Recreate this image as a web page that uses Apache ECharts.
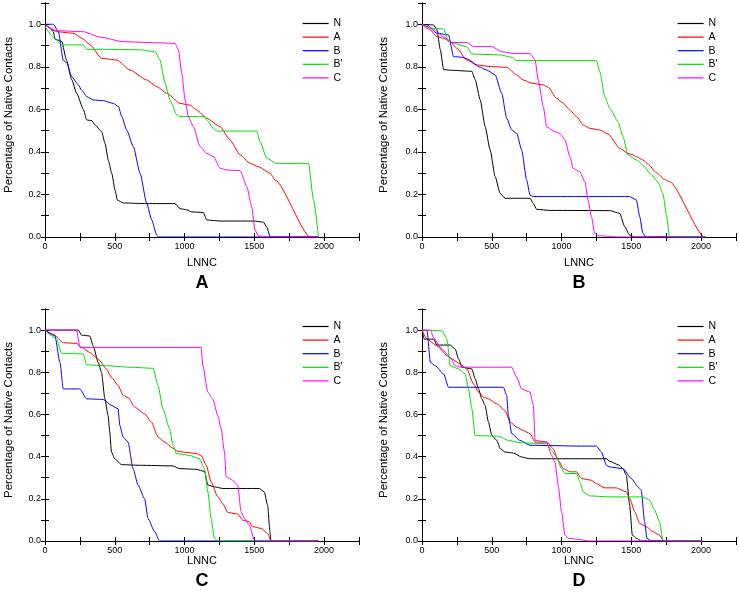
<!DOCTYPE html>
<html>
<head>
<meta charset="utf-8">
<script src="https://cdn.jsdelivr.net/npm/echarts@6/dist/echarts.min.js"></script>
<style>
  html, body { margin: 0; padding: 0; background: #fff; }
  #main { width: 739px; height: 598px; }
</style>
</head>
<body>
<div id="main"></div>
<script>
// series names and colours
const seriesNames = ['N', 'A', 'B', "B'", 'C'];
const panelNames = ['A', 'B', 'C', 'D'];
const xTicks = [0, 500, 1000, 1500, 2000];
const yTicks = [0.0, 0.2, 0.4, 0.6, 0.8, 1.0];

// panel A  [LNNC, fraction]
const A_N = [[0,1.0],[30,0.985],[60,0.965],[72,0.93],[119,0.92],[155,0.83],[191,0.74],[227,0.675],[275,0.60],[299,0.55],[335,0.547],[358,0.527],[406,0.495],[430,0.44],[454,0.36],[478,0.30],[502,0.22],[519,0.173],[562,0.16],[729,0.157],[932,0.157],[968,0.133],[1016,0.128],[1051,0.118],[1135,0.115],[1159,0.08],[1254,0.075],[1493,0.075],[1565,0.07],[1589,0.047],[1613,0.003],[1620,0],[1960,0]];
const A_A = [[0,1.0],[84,0.965],[203,0.958],[275,0.93],[323,0.903],[406,0.84],[514,0.832],[609,0.785],[729,0.738],[801,0.707],[872,0.676],[968,0.628],[1039,0.62],[1087,0.597],[1159,0.558],[1254,0.519],[1326,0.456],[1398,0.386],[1470,0.346],[1530,0.33],[1613,0.30],[1649,0.268],[1900,0],[1960,0]];
const A_B = [[0,1.0],[60,1.0],[96,0.965],[131,0.83],[155,0.82],[191,0.754],[239,0.715],[263,0.69],[299,0.66],[347,0.644],[418,0.641],[490,0.628],[526,0.613],[550,0.566],[585,0.503],[633,0.425],[681,0.30],[729,0.158],[765,0.08],[800,0.01],[812,0],[1960,0]];
const A_Bp = [[0,0.99],[60,0.94],[108,0.91],[131,0.903],[275,0.903],[299,0.882],[442,0.882],[681,0.88],[789,0.871],[824,0.832],[860,0.723],[896,0.644],[944,0.574],[968,0.566],[1147,0.566],[1159,0.55],[1207,0.511],[1231,0.498],[1517,0.498],[1541,0.448],[1589,0.37],[1660,0.346],[1888,0.346],[1924,0.174],[1960,0]];
const A_C = [[0,0.997],[84,0.97],[275,0.965],[394,0.94],[562,0.918],[801,0.913],[932,0.91],[956,0.879],[980,0.77],[1004,0.644],[1027,0.566],[1063,0.519],[1111,0.425],[1159,0.393],[1207,0.378],[1254,0.323],[1302,0.315],[1398,0.312],[1446,0.237],[1481,0.143],[1505,0.033],[1529,0.005],[1589,0],[1960,0]];

// panel B
const B_N = [[0,1.0],[83,0.997],[107,0.975],[131,0.88],[155,0.787],[202,0.784],[357,0.779],[381,0.74],[417,0.645],[452,0.52],[488,0.41],[524,0.284],[560,0.205],[595,0.182],[774,0.182],[798,0.158],[821,0.13],[917,0.125],[1345,0.124],[1417,0.111],[1452,0.049],[1488,0.009],[1524,0],[2030,0]];
const B_A = [[0,1.0],[60,0.973],[107,0.942],[155,0.934],[202,0.918],[250,0.887],[321,0.832],[393,0.809],[488,0.801],[607,0.798],[679,0.762],[726,0.738],[786,0.723],[869,0.715],[905,0.704],[964,0.652],[1012,0.629],[1060,0.597],[1107,0.566],[1155,0.527],[1202,0.511],[1274,0.503],[1333,0.484],[1417,0.417],[1476,0.393],[1512,0.386],[1536,0.378],[1583,0.362],[1619,0.343],[1679,0.303],[1738,0.271],[1774,0.26],[2024,0],[2030,0]];
const B_B = [[0,1.0],[36,0.997],[107,0.958],[190,0.95],[226,0.848],[286,0.845],[333,0.835],[405,0.801],[464,0.785],[524,0.762],[571,0.676],[607,0.558],[643,0.503],[679,0.487],[714,0.409],[750,0.268],[774,0.197],[798,0.19],[1488,0.19],[1536,0.174],[1560,0.096],[1583,0.017],[1607,0],[2030,0]];
const B_Bp = [[0,1.0],[83,0.981],[155,0.978],[190,0.918],[321,0.895],[357,0.86],[560,0.856],[643,0.845],[679,0.829],[1250,0.829],[1274,0.777],[1310,0.66],[1345,0.605],[1405,0.542],[1440,0.472],[1476,0.386],[1536,0.362],[1595,0.331],[1631,0.30],[1690,0.26],[1726,0.205],[1750,0.111],[1774,0],[2030,0]];
const B_C = [[0,1.0],[83,0.976],[155,0.942],[214,0.914],[321,0.914],[369,0.895],[500,0.895],[571,0.871],[655,0.863],[774,0.863],[810,0.832],[833,0.738],[869,0.613],[893,0.519],[952,0.495],[988,0.487],[1024,0.456],[1060,0.378],[1083,0.323],[1131,0.307],[1167,0.26],[1190,0.174],[1214,0.096],[1238,0.017],[1260,0.006],[1350,0.003],[1400,0],[2030,0]];

// panel C
const C_N = [[0,1.0],[238,1.0],[262,0.976],[321,0.972],[345,0.926],[381,0.847],[405,0.80],[429,0.674],[452,0.595],[464,0.517],[476,0.422],[500,0.39],[548,0.362],[679,0.359],[917,0.356],[964,0.343],[1083,0.34],[1143,0.33],[1167,0.265],[1214,0.257],[1274,0.249],[1536,0.249],[1571,0.233],[1595,0.17],[1612,0.044],[1619,0],[1960,0]];
const C_A = [[0,1.0],[60,0.98],[131,0.94],[226,0.937],[262,0.918],[321,0.894],[381,0.863],[440,0.816],[476,0.776],[524,0.737],[560,0.69],[595,0.68],[643,0.635],[714,0.603],[762,0.564],[810,0.493],[857,0.469],[917,0.44],[952,0.425],[1012,0.42],[1083,0.415],[1119,0.405],[1155,0.36],[1190,0.28],[1238,0.21],[1274,0.178],[1310,0.135],[1381,0.128],[1417,0.099],[1464,0.091],[1488,0.068],[1548,0.06],[1595,0.036],[1619,0],[1960,0]];
const C_B = [[0,1.0],[71,0.973],[107,0.847],[131,0.721],[250,0.721],[298,0.674],[417,0.671],[476,0.643],[524,0.627],[536,0.548],[560,0.493],[595,0.469],[631,0.343],[667,0.265],[714,0.20],[738,0.107],[786,0.044],[821,0],[1960,0]];
const C_Bp = [[0,1.0],[48,0.973],[83,0.957],[119,0.89],[274,0.887],[298,0.835],[440,0.831],[607,0.824],[774,0.819],[810,0.737],[845,0.627],[893,0.532],[917,0.454],[940,0.415],[1036,0.406],[1107,0.39],[1143,0.343],[1167,0.233],[1190,0.107],[1214,0.013],[1238,0],[1960,0]];
const C_C = [[0,1.0],[226,1.0],[250,0.918],[1119,0.918],[1131,0.831],[1167,0.706],[1202,0.674],[1238,0.595],[1262,0.532],[1286,0.422],[1298,0.304],[1345,0.288],[1381,0.265],[1405,0.139],[1429,0.107],[1464,0.076],[1500,0.005],[1524,0],[1960,0]];

// panel D
const D_N = [[0,1.0],[17,0.957],[83,0.957],[107,0.929],[202,0.929],[238,0.91],[262,0.863],[286,0.824],[357,0.816],[381,0.769],[405,0.721],[429,0.674],[452,0.643],[476,0.564],[500,0.501],[536,0.477],[560,0.438],[595,0.422],[655,0.417],[714,0.398],[774,0.39],[1321,0.39],[1345,0.378],[1405,0.362],[1440,0.343],[1464,0.312],[1488,0.17],[1507,0.028],[1536,0.013],[1571,0],[2010,0]];
const D_A = [[0,1.0],[36,0.957],[107,0.926],[179,0.879],[214,0.863],[274,0.839],[321,0.816],[369,0.745],[405,0.706],[440,0.682],[476,0.674],[536,0.65],[595,0.619],[631,0.564],[679,0.54],[726,0.524],[774,0.509],[810,0.469],[893,0.469],[940,0.438],[976,0.383],[1012,0.343],[1060,0.328],[1107,0.328],[1143,0.296],[1214,0.288],[1250,0.272],[1310,0.252],[1393,0.252],[1464,0.233],[1488,0.202],[1524,0.139],[1560,0.083],[1607,0.068],[1655,0.044],[1702,0.028],[1731,0],[2010,0]];
const D_B = [[0,1.0],[36,0.997],[60,0.847],[95,0.831],[155,0.792],[190,0.729],[583,0.729],[607,0.69],[619,0.595],[643,0.509],[702,0.477],[774,0.454],[1143,0.45],[1250,0.45],[1286,0.422],[1321,0.359],[1345,0.351],[1440,0.343],[1500,0.296],[1548,0.257],[1571,0.241],[1595,0.091],[1612,0.013],[1643,0],[2010,0]];
const D_Bp = [[0,1.0],[143,0.997],[179,0.957],[202,0.831],[262,0.816],[310,0.792],[333,0.721],[357,0.627],[381,0.50],[548,0.497],[619,0.477],[702,0.466],[893,0.461],[929,0.43],[964,0.398],[1000,0.343],[1024,0.32],[1107,0.32],[1131,0.28],[1155,0.233],[1202,0.214],[1345,0.209],[1583,0.209],[1631,0.194],[1667,0.146],[1702,0.091],[1726,0.005],[1738,0],[2010,0]];
const D_C = [[0,1.0],[60,1.0],[83,0.965],[131,0.918],[202,0.871],[238,0.831],[274,0.824],[643,0.824],[679,0.776],[714,0.721],[774,0.706],[798,0.643],[810,0.477],[893,0.469],[929,0.406],[952,0.375],[976,0.265],[1000,0.139],[1024,0.028],[1048,0.013],[1107,0.009],[1143,0.005],[1200,0],[2010,0]];

const panelData = [
    [A_N, A_A, A_B, A_Bp, A_C],
    [B_N, B_A, B_B, B_Bp, B_C],
    [C_N, C_A, C_B, C_Bp, C_C],
    [D_N, D_A, D_B, D_Bp, D_C]
];

const colors = ['#000000', '#ff0000', '#0000ff', '#00dd00', '#ff00ff'];
const font = 'Liberation Sans, Arial, sans-serif';

// layout of the four plots
const layout = [
    {left: 45, top: 3, height: 234, xGap: 20, yGap: 30, legendLeft: 302, legendTop: 17, titleTop: 274},
    {left: 422, top: 3, height: 234, xGap: 20, yGap: 32, legendLeft: 677, legendTop: 17, titleTop: 274},
    {left: 45, top: 309, height: 232, xGap: 12, yGap: 30, legendLeft: 302, legendTop: 320, titleTop: 572},
    {left: 422, top: 309, height: 232, xGap: 12, yGap: 32, legendLeft: 677, legendTop: 320, titleTop: 572}
];
const plotWidth = 314;

const grids = [], xAxes = [], yAxes = [], legends = [], titles = [], series = [];
const axisLine = {lineStyle: {color: '#000', width: 1}};
const tick = {inside: true, length: 4, lineStyle: {color: '#000'}};

layout.forEach(function (p, i) {
    grids.push({left: p.left, top: p.top, width: plotWidth, height: p.height});
    const xBase = {
        type: 'value', gridIndex: i, min: 0, max: 2250, interval: 250,
        axisLine: axisLine, axisTick: tick, splitLine: {show: false}
    };
    xAxes.push(Object.assign({}, xBase, {
        position: 'bottom',
        name: 'LNNC', nameLocation: 'middle', nameGap: p.xGap,
        nameTextStyle: {fontFamily: font, fontSize: 11, color: '#000'},
        axisLabel: {
            fontFamily: font, fontSize: 9, color: '#000', margin: 5,
            formatter: function (v) { return xTicks.indexOf(v) >= 0 ? String(v) : ''; }
        }
    }));
    xAxes.push(Object.assign({}, xBase, {position: 'top', axisLabel: {show: false}}));
    const yBase = {
        type: 'value', gridIndex: i, min: 0, max: 1.1, interval: 0.1,
        axisLine: axisLine, axisTick: tick, splitLine: {show: false}
    };
    yAxes.push(Object.assign({}, yBase, {
        position: 'left',
        name: 'Percentage of Native Contacts', nameLocation: 'middle', nameGap: p.yGap,
        nameTextStyle: {fontFamily: font, fontSize: 11.5, color: '#000', padding: [0, 0, 0, 10]},
        axisLabel: {
            fontFamily: font, fontSize: 9, color: '#000', margin: 4,
            formatter: function (v) {
                const r = Math.round(v * 10) / 10;
                return yTicks.indexOf(r) >= 0 ? r.toFixed(1) : '';
            }
        }
    }));
    yAxes.push(Object.assign({}, yBase, {position: 'right', axisLabel: {show: false}}));

    legends.push({
        orient: 'vertical', left: p.legendLeft, top: p.legendTop,
        itemWidth: 26, itemHeight: 13, itemGap: 0.6, padding: 0,
        data: seriesNames,
        itemStyle: {opacity: 0},
        lineStyle: {width: 1.2},
        textStyle: {fontFamily: font, fontSize: 10.5, color: '#000', lineHeight: 13}
    });
    titles.push({
        text: panelNames[i], left: p.left + plotWidth / 2, top: p.titleTop,
        textAlign: 'center', padding: 0,
        textStyle: {fontFamily: font, fontSize: 18, fontWeight: 'bold', color: '#000'}
    });

    panelData[i].forEach(function (d, k) {
        series.push({
            name: seriesNames[k], type: 'line',
            xAxisIndex: i * 2, yAxisIndex: i * 2,
            data: d, symbol: 'none', smooth: 0.2, smoothMonotone: 'x',
            lineStyle: {color: colors[k], width: 1},
            itemStyle: {color: colors[k]},
            animation: false
        });
    });
});

const chart = echarts.init(document.getElementById('main'));
chart.setOption({
    backgroundColor: '#fff',
    animation: false,
    title: titles,
    legend: legends,
    grid: grids,
    xAxis: xAxes,
    yAxis: yAxes,
    series: series
});
</script>
</body>
</html>
